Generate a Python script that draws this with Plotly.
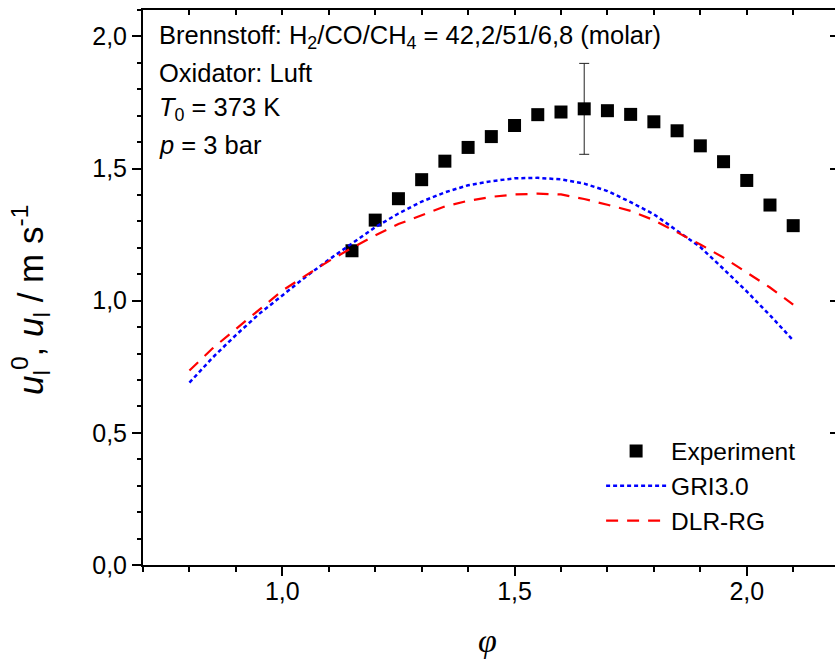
import plotly.graph_objects as go

# Experiment data
phi_exp = [1.15, 1.20, 1.25, 1.30, 1.35, 1.40, 1.45, 1.50, 1.55, 1.60,
           1.65, 1.70, 1.75, 1.80, 1.85, 1.90, 1.95, 2.00, 2.05, 2.10]
u_exp = [1.189, 1.305, 1.386, 1.458, 1.528, 1.580, 1.621, 1.663, 1.704, 1.714,
         1.726, 1.719, 1.705, 1.677, 1.643, 1.586, 1.526, 1.455, 1.362, 1.284]
err_exp = [None] * 10 + [0.172] + [None] * 9

# Simulations
phi_sim = [0.80, 0.85, 0.90, 0.95, 1.00, 1.05, 1.10, 1.15, 1.20, 1.25,
           1.30, 1.35, 1.40, 1.45, 1.50, 1.55, 1.60, 1.65, 1.70, 1.75,
           1.80, 1.85, 1.90, 1.95, 2.00, 2.05, 2.10]
u_gri = [0.690, 0.785, 0.870, 0.950, 1.020, 1.090, 1.155, 1.215, 1.278, 1.330,
         1.375, 1.410, 1.437, 1.452, 1.463, 1.465, 1.459, 1.443, 1.415, 1.373,
         1.327, 1.265, 1.203, 1.120, 1.035, 0.945, 0.850]
u_dlr = [0.736, 0.820, 0.893, 0.965, 1.038, 1.095, 1.150, 1.200, 1.247, 1.290,
         1.325, 1.357, 1.378, 1.393, 1.402, 1.405, 1.402, 1.385, 1.363, 1.340,
         1.305, 1.260, 1.213, 1.163, 1.107, 1.050, 0.985]

x_range = [0.7, 2.19]
y_range = [0, 2.1]

FONT = "Liberation Sans, Arial, sans-serif"

fig = go.Figure()
fig.add_trace(go.Scatter(
    x=phi_exp, y=u_exp, mode="markers", name="Experiment",
    marker=dict(symbol="square", size=13, color="black"),
    error_y=dict(type="data", array=err_exp, visible=True, color="#222222",
                 thickness=1, width=5),
))
fig.add_trace(go.Scatter(
    x=phi_sim, y=u_gri, mode="lines", name="GRI3.0",
    line=dict(color="#0000ff", width=2.5, dash="4px,3px"),
))
fig.add_trace(go.Scatter(
    x=phi_sim, y=u_dlr, mode="lines", name="DLR-RG",
    line=dict(color="#ff0000", width=2.2, dash="12px,9px"),
))

axis_common = dict(showgrid=False, zeroline=False, linecolor="black",
                   tickcolor="black")

fig.update_layout(
    width=835, height=661,
    margin=dict(l=143, r=0, t=10, b=96),
    paper_bgcolor="white", plot_bgcolor="white",
    separators=", ",
    font=dict(family=FONT, size=25, color="black"),
    showlegend=True,
    legend=dict(x=0.662, y=0.246, xanchor="left", yanchor="top",
                bgcolor="rgba(0,0,0,0)", font=dict(size=24.5, family=FONT),
                itemwidth=60, tracegroupgap=0),
    xaxis=dict(range=x_range, tickvals=[1.0, 1.5, 2.0], tickformat=".1f",
               ticks="outside", ticklen=9, tickwidth=1.5, showline=True,
               linewidth=2, ticklabelstandoff=-6,
               minor=dict(dtick=0.1, tick0=0.7, ticks="outside", ticklen=5,
                          tickwidth=1.5, tickcolor="black"),
               tickfont=dict(size=25), **axis_common),
    yaxis=dict(range=y_range, tickvals=[0, 0.5, 1.0, 1.5, 2.0],
               tickformat=".1f", ticks="outside", ticklen=9, tickwidth=1.5,
               showline=True, linewidth=2,
               minor=dict(dtick=0.1, tick0=0, ticks="outside", ticklen=4,
                          tickwidth=1.5, tickcolor="black"),
               tickfont=dict(size=25), **axis_common),
    xaxis2=dict(range=x_range, overlaying="x", side="top", anchor="y",
                tickvals=[1.0, 1.5, 2.0], showticklabels=False,
                ticks="inside", ticklen=5, tickwidth=1.5, showline=True,
                linewidth=1.5,
                minor=dict(dtick=0.1, tick0=0.7, ticks="inside", ticklen=5,
                           tickwidth=1.5, tickcolor="black"),
                **axis_common),
    yaxis2=dict(range=y_range, overlaying="y", side="right", anchor="x",
                tickvals=[0, 0.5, 1.0, 1.5, 2.0], showticklabels=False,
                ticks="inside", ticklen=5, tickwidth=1.5, showline=True,
                linewidth=1.5, **axis_common),
)

# invisible helper trace so the mirrored frame axes are drawn
fig.add_trace(go.Scatter(x=[x_range[0]], y=[y_range[0]], xaxis="x2", yaxis="y2",
                         mode="markers", marker=dict(opacity=0),
                         showlegend=False, hoverinfo="skip"))

annots = [
    ("Brennstoff: H<sub>2</sub>/CO/CH<sub>4</sub> = 42,2/51/6,8 (molar)", 37),
    ("Oxidator: Luft", 73),
    ("<i>T</i><sub>0</sub> = 373 K", 109),
    ("<i>p</i> = 3 bar", 145),
]
for txt, ypix in annots:
    fig.add_annotation(text=txt, xref="paper", yref="paper",
                       x=(157 - 143) / 692, y=(565 - ypix) / 555,
                       xanchor="left", yanchor="middle", showarrow=False,
                       font=dict(size=25.5, family=FONT))

# Axis titles
fig.add_annotation(
    text="<i>u</i><sub>l</sub><sup>0</sup>, <i>u</i><sub>l</sub> / m s<sup>-1</sup>",
    xref="paper", yref="paper", x=(30 - 143) / 692, y=(565 - 300) / 555,
    xanchor="center", yanchor="middle", textangle=-90, showarrow=False,
    font=dict(size=35, family=FONT))
fig.add_annotation(
    text="<i>φ</i>", xref="paper", yref="paper", x=(487 - 143) / 692,
    y=(565 - 640) / 555, xanchor="center", yanchor="middle", showarrow=False,
    font=dict(size=34, family="Liberation Serif, Times New Roman, serif"))

fig.write_html("out.html")
